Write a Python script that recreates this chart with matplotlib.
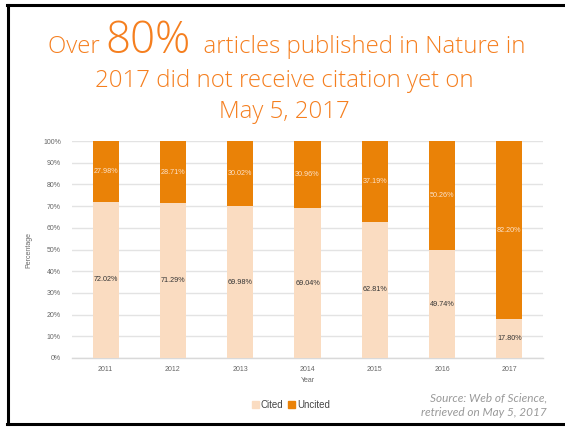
import matplotlib.pyplot as plt
import numpy as np
from matplotlib.lines import Line2D
from matplotlib.patches import Patch

years = ["2011", "2012", "2013", "2014", "2015", "2016", "2017"]
cited = [72.02, 71.29, 69.98, 69.04, 62.81, 49.74, 17.80]
uncited = [27.98, 28.71, 30.02, 30.96, 37.19, 50.26, 82.20]

c_cited = "#FADCC1"
c_uncited = "#EA8207"
c_title = "#F57F1F"
plt.rcParams["font.family"] = ["Liberation Sans", "DejaVu Sans"]

fig = plt.figure(figsize=(5.65, 4.29), dpi=100)
fig.patch.set_facecolor("white")

# frame lines (left, top, bottom)
fig.add_artist(Line2D([7.5/565, 7.5/565], [1-5/429, 1-424/429], color="black", lw=2.2, transform=fig.transFigure))
fig.add_artist(Line2D([6.5/565, 1], [1-5/429, 1-5/429], color="black", lw=2.2, transform=fig.transFigure))
fig.add_artist(Line2D([6.5/565, 1], [1-424/429, 1-424/429], color="black", lw=2.2, transform=fig.transFigure))

ax = fig.add_axes([72/565, 1-358/429, 471/565, 217/429])
x = np.arange(len(years))
w = 0.39
ax.bar(x, cited, w, color=c_cited, label="Cited", zorder=3)
ax.bar(x, uncited, w, bottom=cited, color=c_uncited, label="Uncited", zorder=3)

for i in range(len(years)):
    ax.text(x[i], cited[i]/2, f"{cited[i]:.2f}%", ha="center", va="center",
            fontsize=5.2, color="#333333", zorder=4)
    ax.text(x[i], cited[i] + uncited[i]/2, f"{uncited[i]:.2f}%", ha="center", va="center",
            fontsize=5.2, color="#FCE3CC", zorder=4)

ax.set_xlim(-0.5, len(years) - 0.5)
ax.set_ylim(0, 100)
ax.set_yticks(np.arange(0, 101, 10))
ax.set_yticklabels([f"{v}%" for v in range(0, 101, 10)])
ax.set_xticks(x)
ax.set_xticklabels(years)
ax.tick_params(axis="both", length=0, labelsize=5, labelcolor="#666666")
ax.tick_params(axis="y", pad=8)
ax.tick_params(axis="x", pad=6)
ax.grid(axis="y", color="#E3E3E3", lw=1, zorder=0)
for s in ["top", "right", "left"]:
    ax.spines[s].set_visible(False)
ax.spines["bottom"].set_color("#D9D9D9")
ax.spines["bottom"].set_linewidth(1)
ax.set_xlabel("Year", fontsize=5, color="#666666", labelpad=3)
ax.set_ylabel("Percentage", fontsize=5, color="#666666", labelpad=8)

handles = [Patch(color=c_cited), Patch(color=c_uncited)]
fig.legend(handles, ["Cited", "Uncited"], loc="center", bbox_to_anchor=(291/565, 1-405/429),
           ncol=2, frameon=False, fontsize=7, handlelength=0.7, handleheight=0.7,
           handletextpad=0.2, columnspacing=0.5, labelcolor="#444444")

fig.text(547/565, 1-398/429, "Source: Web of Science,", ha="right", va="center",
         fontsize=8.5, style="italic", color="#999999", family="Lato")
fig.text(547/565, 1-413/429, "retrieved on May 5, 2017", ha="right", va="center",
         fontsize=8.5, style="italic", color="#999999", family="Lato")

# title with larger "80%"
tfont = "Open Sans"
tw = 300
parts = [("Over ", 17.3), ("80%", 31.5), ("  articles published in Nature in", 17.3)]
r = fig.canvas.get_renderer()
texts = []
for s, fs in parts:
    t = fig.text(0, 1-53/429, s, fontsize=fs, color=c_title, family=tfont,
                 fontweight=tw, va="baseline", ha="left")
    texts.append(t)
widths = [t.get_window_extent(r).width / fig.bbox.width for t in texts]
x0 = 0.5 - sum(widths) / 2 + 0.007
for t, wd in zip(texts, widths):
    t.set_x(x0)
    x0 += wd
fig.text(0.5 + 0.003, 1-87/429, "2017 did not receive citation yet on", fontsize=17.3, color=c_title,
         family=tfont, fontweight=tw, ha="center", va="baseline")
fig.text(0.5 + 0.003, 1-118/429, "May 5, 2017", fontsize=17.3, color=c_title,
         family=tfont, fontweight=tw, ha="center", va="baseline")

fig.savefig("out.png", dpi=100)
